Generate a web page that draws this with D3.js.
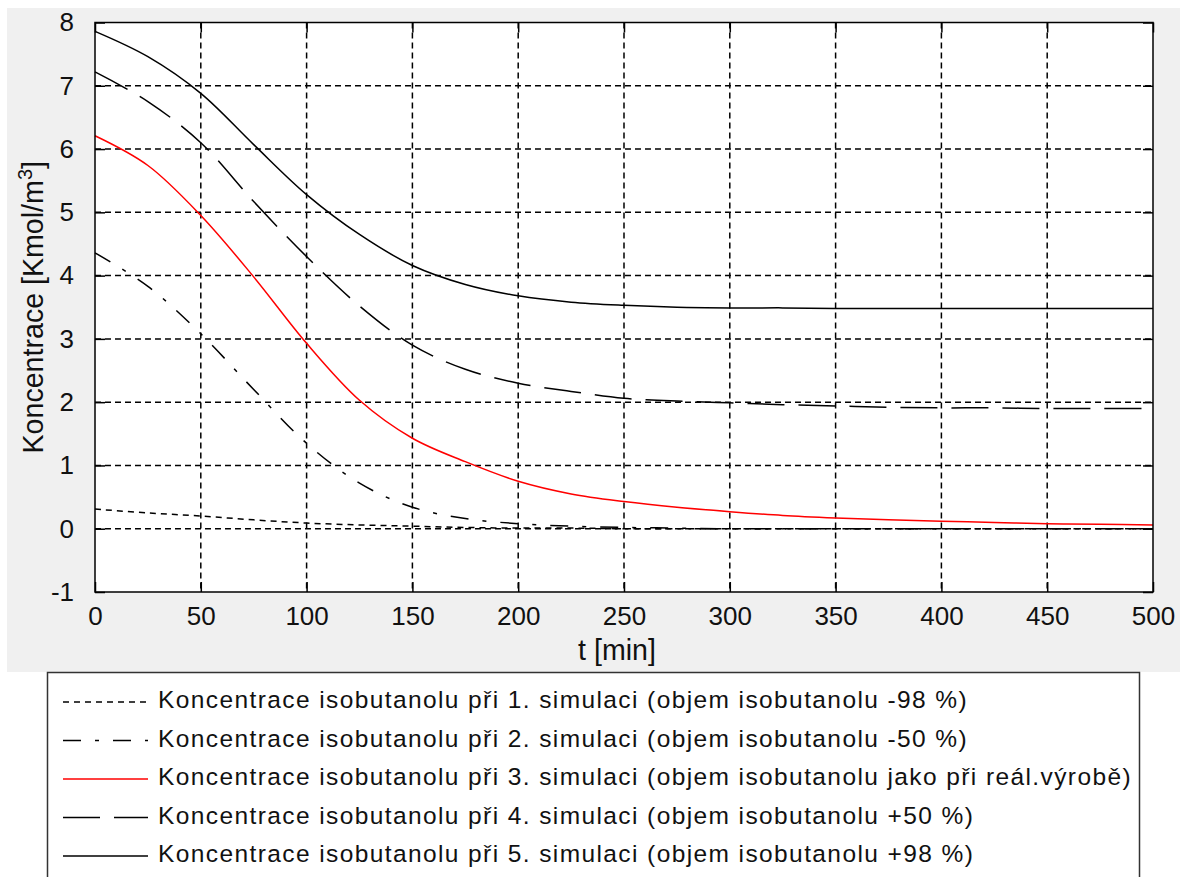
<!DOCTYPE html>
<html>
<head>
<meta charset="utf-8">
<script src="https://cdn.jsdelivr.net/npm/d3@7"></script>
<style>
  html, body { margin: 0; padding: 0; background: #ffffff; }
  svg { display: block; }
  text { font-family: "Liberation Sans", Arial, sans-serif; fill: #111; }
</style>
</head>
<body>
<svg id="chart" width="1189" height="877"></svg>
<script>
// Simulation time [min]
const times = [0, 25, 50, 75, 100, 125, 150, 175, 200, 225, 250, 275, 300, 325, 350, 375, 400, 425, 450, 475, 500];

// Isobutanol concentration [Kmol/m3] for the five simulations
const sim1 = [0.31, 0.25, 0.20, 0.14, 0.09, 0.06, 0.04, 0.02, 0.01, 0.01, 0.00, 0.00, 0.00, 0.00, 0.00, 0.00, 0.00, 0.00, 0.00, 0.00, 0.00];
const sim2 = [4.36, 3.83, 3.08, 2.20, 1.35, 0.72, 0.34, 0.16, 0.08, 0.04, 0.02, 0.01, 0.00, 0.00, 0.00, 0.00, 0.00, 0.00, 0.00, 0.00, 0.00];
const sim3 = [6.21, 5.74, 4.95, 3.98, 2.93, 2.03, 1.43, 1.06, 0.75, 0.55, 0.43, 0.34, 0.27, 0.21, 0.17, 0.14, 0.12, 0.10, 0.08, 0.07, 0.06];
const sim4 = [7.22, 6.75, 6.10, 5.17, 4.30, 3.52, 2.90, 2.52, 2.30, 2.17, 2.06, 2.02, 1.99, 1.96, 1.94, 1.92, 1.91, 1.91, 1.90, 1.90, 1.90];
const sim5 = [7.86, 7.46, 6.88, 6.07, 5.28, 4.65, 4.16, 3.86, 3.68, 3.58, 3.53, 3.50, 3.49, 3.49, 3.48, 3.48, 3.48, 3.48, 3.48, 3.48, 3.48];

// Axis ticks
const xTicks = [0, 50, 100, 150, 200, 250, 300, 350, 400, 450, 500];
const yTicks = [-1, 0, 1, 2, 3, 4, 5, 6, 7, 8];

// Legend entries
const legendLabels = [
  "Koncentrace isobutanolu při 1. simulaci (objem isobutanolu -98 %)",
  "Koncentrace isobutanolu při 2. simulaci (objem isobutanolu -50 %)",
  "Koncentrace isobutanolu při 3. simulaci (objem isobutanolu jako při reál.výrobě)",
  "Koncentrace isobutanolu při 4. simulaci (objem isobutanolu +50 %)",
  "Koncentrace isobutanolu při 5. simulaci (objem isobutanolu +98 %)"
];

const seriesValues = [sim1, sim2, sim3, sim4, sim5];
const seriesStyle = [
  { color: "#000", dash: "6,5" },
  { color: "#000", dash: "18,14,4,14" },
  { color: "#ff0000", dash: null },
  { color: "#000", dash: "37,14" },
  { color: "#000", dash: null }
];

const svg = d3.select("#chart");

// Figure background
svg.append("rect").attr("x", 7).attr("y", 8).attr("width", 1173).attr("height", 664).attr("fill", "#f0f0f0");

const plot = { left: 95, right: 1153, top: 22.5, bottom: 592 };

const x = d3.scaleLinear().domain([0, 500]).range([plot.left, plot.right]);
const y = d3.scaleLinear().domain([-1, 8]).range([plot.bottom, plot.top]);

// Axes area
svg.append("rect")
  .attr("x", plot.left).attr("y", plot.top)
  .attr("width", plot.right - plot.left).attr("height", plot.bottom - plot.top)
  .attr("fill", "#ffffff");

// Grid
const grid = svg.append("g").attr("stroke", "#000").attr("stroke-width", 1.5).attr("stroke-dasharray", "6,4");
grid.selectAll("line.gx").data(xTicks.slice(1, -1)).join("line")
  .attr("x1", d => x(d)).attr("x2", d => x(d))
  .attr("y1", plot.top).attr("y2", plot.bottom);
grid.selectAll("line.gy").data(yTicks.slice(1, -1)).join("line")
  .attr("y1", d => y(d)).attr("y2", d => y(d))
  .attr("x1", plot.left).attr("x2", plot.right);

// Curves
const line = d3.line()
  .x((d, i) => x(times[i]))
  .y(d => y(d))
  .curve(d3.curveCatmullRom.alpha(0.5));

const curves = svg.append("g").attr("fill", "none");
seriesValues.forEach((vals, k) => {
  const p = curves.append("path")
    .attr("d", line(vals))
    .attr("stroke", seriesStyle[k].color)
    .attr("stroke-width", 1.5);
  if (seriesStyle[k].dash) p.attr("stroke-dasharray", seriesStyle[k].dash);
});

// Axes: box with inward ticks on all four sides
const tickLen = 10;
const fmt = d => String(d);
const xBottom = svg.append("g").attr("transform", `translate(0,${plot.bottom})`)
  .call(d3.axisBottom(x).tickValues(xTicks).tickFormat(fmt).tickSizeInner(-tickLen).tickSizeOuter(0).tickPadding(tickLen + 10));
const xTop = svg.append("g").attr("transform", `translate(0,${plot.top})`)
  .call(d3.axisTop(x).tickValues(xTicks).tickSizeInner(-tickLen).tickSizeOuter(0).tickFormat(""));
const yLeft = svg.append("g").attr("transform", `translate(${plot.left},0)`)
  .call(d3.axisLeft(y).tickValues(yTicks).tickFormat(fmt).tickSizeInner(-tickLen).tickSizeOuter(0).tickPadding(tickLen + 11));
const yRight = svg.append("g").attr("transform", `translate(${plot.right},0)`)
  .call(d3.axisRight(y).tickValues(yTicks).tickSizeInner(-tickLen).tickSizeOuter(0).tickFormat(""));

[xBottom, xTop, yLeft, yRight].forEach(g => {
  g.select(".domain").remove();
  g.selectAll(".tick line").attr("stroke", "#000").attr("stroke-width", 1.5);
  g.selectAll(".tick text").attr("font-size", 26).attr("font-family", '"Liberation Sans", Arial, sans-serif').attr("fill", "#111");
});
xBottom.selectAll(".tick text").attr("dy", null).attr("y", 33);

svg.append("rect")
  .attr("x", plot.left).attr("y", plot.top)
  .attr("width", plot.right - plot.left).attr("height", plot.bottom - plot.top)
  .attr("fill", "none").attr("stroke", "#000").attr("stroke-width", 1.5);

// Axis labels
svg.append("text")
  .attr("x", (plot.left + plot.right) / 2 - 7).attr("y", 660)
  .attr("text-anchor", "middle").attr("font-size", 28.6)
  .text("t [min]");

const yl = svg.append("text")
  .attr("transform", `translate(43,${(plot.top + plot.bottom) / 2}) rotate(-90)`)
  .attr("text-anchor", "middle").attr("font-size", 28.6);
yl.append("tspan").text("Koncentrace [Kmol/m");
yl.append("tspan").attr("font-size", 20).attr("dy", -11).text("3");
yl.append("tspan").attr("dy", 11).text("]");

// Legend
const legend = svg.append("g");
legend.append("rect")
  .attr("x", 47.5).attr("y", 672.5).attr("width", 1092).attr("height", 230)
  .attr("fill", "#ffffff").attr("stroke", "#333").attr("stroke-width", 1.5);

const rowY0 = 702, rowStep = 38.5;
const legendTexts = [];
legendLabels.forEach((label, k) => {
  const cy = rowY0 + k * rowStep;
  const l = legend.append("line")
    .attr("x1", 63).attr("x2", 148).attr("y1", cy).attr("y2", cy)
    .attr("stroke", seriesStyle[k].color).attr("stroke-width", 1.5);
  if (seriesStyle[k].dash) l.attr("stroke-dasharray", seriesStyle[k].dash);
  legendTexts.push(legend.append("text")
    .attr("x", 158).attr("y", cy + 6)
    .attr("font-size", 24.5)
    .text(label));
});

// Legend text is set with slightly wider letter spacing so the first entry spans 810 px
const natural = legendTexts[0].node().getComputedTextLength();
const spacing = (810 - natural) / legendLabels[0].length;
legendTexts.forEach(t => t.attr("letter-spacing", spacing.toFixed(2)));
</script>
</body>
</html>
